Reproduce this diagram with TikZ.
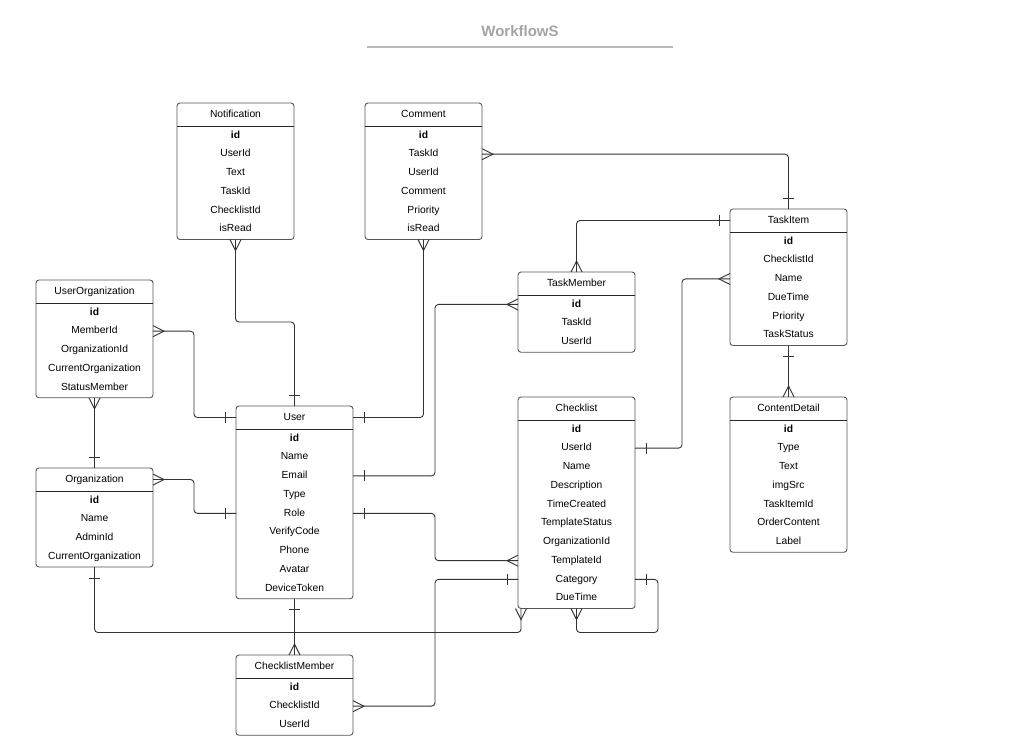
\documentclass[tikz,border=0pt]{standalone}
\usepackage{fontspec}
\setmainfont{Liberation Sans}
\usetikzlibrary{calc}
\definecolor{boxgray}{RGB}{85,85,85}
\definecolor{linegray}{RGB}{51,51,51}
\definecolor{titlegray}{RGB}{165,165,165}
\definecolor{titleline}{RGB}{185,185,185}
\tikzset{
  tbl/.style={draw=boxgray, line width=0.9pt, rounded corners=3pt, fill=white,
    minimum width=117pt, inner sep=0pt, outer sep=0pt, anchor=north west},
  hdr/.style={font=\fontsize{10.3}{12}\selectfont, text=black, inner sep=0pt, text height=7.4pt, text depth=2.1pt},
  rowtext/.style={font=\fontsize{10.3}{12}\selectfont, text=black, inner sep=0pt, text height=7.4pt, text depth=2.1pt},
  sepline/.style={draw=black!85, line width=0.9pt},
  conn/.style={draw=linegray, line width=0.9pt, rounded corners=3.5pt},
  ermark/.style={draw=linegray, line width=0.9pt},
}
\newcommand\ertable[5]{%
  \foreach \rowtxt [count=\i] in {#5}{\xdef\ernrows{\i}}%
  \pgfmathsetmacro\erh{24+18.75*\ernrows}%
  \node[tbl, minimum height=\erh pt] (#1) at (#2,#3) {};
  \node[hdr] (#1-h) at ($(#1.north)+(0,11.5)$) {#4};
  \draw[sepline] ($(#1.north west)+(0,23)$) -- ($(#1.north east)+(0,23)$);
  \foreach \rowtxt [count=\i] in {#5}{
    \node[rowtext] (#1-\i) at ($(#1.north)+(0,{32.4+18.75*(\i-1)})$) {\ifnum\i=1 \bfseries\fi\rowtxt};
  }%
}
% crow's foot at coordinate #1, direction away from box (#2,#3)
\newcommand\crowf[3]{%
  \draw[ermark] ($(#1)+({-(#3)*5.5},{(#2)*5.5})$) -- ($(#1)+({(#2)*11},{(#3)*11})$) -- ($(#1)+({(#3)*5.5},{-(#2)*5.5})$);}
% bar at coordinate #1, direction away from box (#2,#3)
\newcommand\erbar[3]{%
  \draw[ermark] ($(#1)+({(#2)*11-(#3)*5.5},{(#3)*11+(#2)*5.5})$) -- ($(#1)+({(#2)*11+(#3)*5.5},{(#3)*11-(#2)*5.5})$);}
\begin{document}
\begin{tikzpicture}[x=1pt,y=-1pt]
\useasboundingbox[fill=white] (0,0) rectangle (1035,748);
% title
\node[font=\bfseries\fontsize{15}{18}\selectfont, text=titlegray] (title) at (520,31) {WorkflowS};
\draw[draw=titleline, line width=1.3pt] (367,47) -- (673,47);
% tables
\ertable{notif}{177}{103}{Notification}{id,UserId,Text,TaskId,ChecklistId,isRead}
\ertable{comment}{365}{103}{Comment}{id,TaskId,UserId,Comment,Priority,isRead}
\ertable{uorg}{36}{280}{UserOrganization}{id,MemberId,OrganizationId,CurrentOrganization,StatusMember}
\ertable{org}{36}{468}{Organization}{id,Name,AdminId,CurrentOrganization}
\ertable{user}{236}{406}{User}{id,Name,Email,Type,Role,VerifyCode,Phone,Avatar,DeviceToken}
\ertable{clm}{236}{655}{ChecklistMember}{id,ChecklistId,UserId}
\ertable{tm}{518}{272}{TaskMember}{id,TaskId,UserId}
\ertable{cl}{518}{397}{Checklist}{id,UserId,Name,Description,TimeCreated,TemplateStatus,OrganizationId,TemplateId,Category,DueTime}
\ertable{ti}{730}{209}{TaskItem}{id,ChecklistId,Name,DueTime,Priority,TaskStatus}
\ertable{cd}{730}{397}{ContentDetail}{id,Type,Text,imgSrc,TaskItemId,OrderContent,Label}
% junction x positions
\coordinate (jx435) at (435,0);
\coordinate (jx682) at (682,0);
\coordinate (jx194) at (194,0);
\coordinate (jx658) at (658,0);
% end points
\coordinate (e1a) at (notif.south);
\coordinate (e1b) at (user.north);
\coordinate (e2a) at (comment.south);
\coordinate (e2b) at (user.east |- user-h);
\coordinate (e3a) at (comment.east |- comment-2);
\coordinate (e3b) at (ti.north);
\coordinate (e4a) at (ti.west |- ti-h);
\coordinate (e4b) at (tm.north);
\coordinate (e5a) at (tm.west |- tm-1);
\coordinate (e5b) at (user.east |- user-3);
\coordinate (e6a) at (ti.west |- ti-3);
\coordinate (e6b) at (cl.east |- cl-2);
\coordinate (e7a) at (ti.south);
\coordinate (e7b) at (cd.north);
\coordinate (e8a) at (uorg.east |- uorg-2);
\coordinate (e8b) at (user.west |- user-h);
\coordinate (e9a) at (uorg.south);
\coordinate (e9b) at (org.north);
\coordinate (e10a) at (org.east |- org-h);
\coordinate (e10b) at (user.west |- user-5);
\coordinate (e11a) at (user.east |- user-5);
\coordinate (e11b) at (cl.west |- cl-8);
\coordinate (e12a) at (user.south);
\coordinate (e12b) at (clm.north);
\coordinate (e13a) at (clm.east |- clm-2);
\coordinate (e13b) at (cl.west |- cl-9);
\coordinate (e14a) at (org.south);
\coordinate (e14b) at ($(cl.south west)+(3,0)$);
\coordinate (e15a) at (cl.east |- cl-9);
\coordinate (e15b) at (cl.south);
% connectors
\draw[conn] (e1a) -- (e1a |- 0,322) -| (e1b);
\crowf{e1a}{0}{1} \erbar{e1b}{0}{-1}
\draw[conn] (e2a) |- (e2b);
\crowf{e2a}{0}{1} \erbar{e2b}{1}{0}
\draw[conn] (e3a) -| (e3b);
\crowf{e3a}{1}{0} \erbar{e3b}{0}{-1}
\draw[conn] (e4a) -| (e4b);
\erbar{e4a}{-1}{0} \crowf{e4b}{0}{-1}
\draw[conn] (e5a) -- (jx435 |- e5a) |- (e5b);
\crowf{e5a}{-1}{0} \erbar{e5b}{1}{0}
\draw[conn] (e6a) -- (jx682 |- e6a) |- (e6b);
\crowf{e6a}{-1}{0} \erbar{e6b}{1}{0}
\draw[conn] (e7a) -- (e7b);
\erbar{e7a}{0}{1} \crowf{e7b}{0}{-1}
\draw[conn] (e8a) -- (jx194 |- e8a) |- (e8b);
\crowf{e8a}{1}{0} \erbar{e8b}{-1}{0}
\draw[conn] (e9a) -- (e9b);
\crowf{e9a}{0}{1} \erbar{e9b}{0}{-1}
\draw[conn] (e10a) -- (jx194 |- e10a) |- (e10b);
\crowf{e10a}{1}{0} \erbar{e10b}{-1}{0}
\draw[conn] (e11a) -- (jx435 |- e11a) |- (e11b);
\erbar{e11a}{1}{0} \crowf{e11b}{-1}{0}
\draw[conn] (e12a) -- (e12b);
\erbar{e12a}{0}{1} \crowf{e12b}{0}{-1}
\draw[conn] (e13a) -- (jx435 |- e13a) |- (e13b);
\crowf{e13a}{1}{0} \erbar{e13b}{-1}{0}
\draw[conn] (e14a) |- ($(e14b)+(0,24)$) -- (e14b);
\erbar{e14a}{0}{1} \crowf{e14b}{0}{1}
\draw[conn] (e15a) -- (jx658 |- e15a) |- ($(e15b)+(0,24)$) -- (e15b);
\erbar{e15a}{1}{0} \crowf{e15b}{0}{1}
\end{tikzpicture}
\end{document}
